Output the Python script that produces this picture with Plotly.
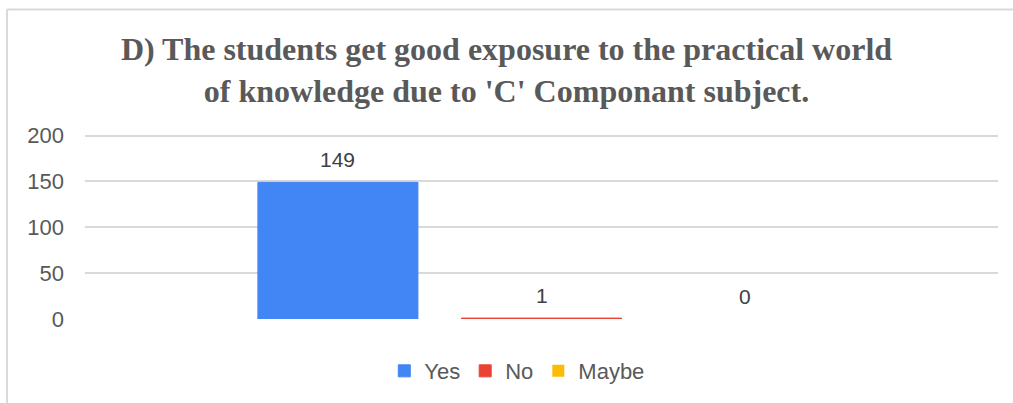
import plotly.graph_objects as go

# survey answers for question D
answers = ["Yes", "No", "Maybe"]
counts = [149, 1, 0]
colors = ["#4285F4", "#EA4335", "#FBBC04"]
category = ["D"]

title_text = ("<b>D) The students get good exposure to the practical world<br>"
              "of knowledge due to 'C' Componant subject.</b>")

bargap = 0.331
bargroupgap = 0.214

fig = go.Figure()

for name, val, col in zip(answers, counts, colors):
    fig.add_trace(go.Bar(
        x=category,
        y=[val],
        name=name,
        # outline in the bar colour so the tiny "1" bar stays visible
        marker=dict(color=col, line=dict(width=1 if val > 0 else 0, color=col)),
        hoverinfo="name+y",
    ))

# value labels a bit above each bar (like the excel-style chart)
slot = (1 - bargap) / len(answers)
for i, val in enumerate(counts):
    fig.add_annotation(
        x=(i - 1) * slot, y=val, xref="x", yref="y",
        text=str(val), showarrow=False,
        yanchor="middle", yshift=23,
        font=dict(family="Liberation Sans, Arial", size=21, color="#404040"),
    )

# thin frame lines (top and left) like the source picture
frame = dict(color="#D9D9D9", width=2)
fig.add_shape(type="line", xref="paper", yref="paper",
              x0=-0.0854, x1=1.02, y0=1.646, y1=1.646, line=frame)
fig.add_shape(type="line", xref="paper", yref="paper",
              x0=-0.0854, x1=-0.0854, y0=1.646, y1=-0.45, line=frame)

fig.update_layout(
    width=1013,
    height=403,
    margin=dict(l=85, r=15, t=131, b=83),
    paper_bgcolor="white",
    plot_bgcolor="white",
    barmode="group",
    bargap=bargap,
    bargroupgap=bargroupgap,
    title=dict(
        text=title_text,
        x=0.5, xref="container", xanchor="center",
        y=1 - 60 / 403, yref="container", yanchor="top",
        font=dict(family="Liberation Serif, Times New Roman", size=32, color="#595959"),
    ),
    xaxis=dict(showticklabels=False, showgrid=False, zeroline=False, showline=False,
               range=[-0.5, 0.5]),
    yaxis=dict(
        range=[0, 205],
        tickvals=[0, 50, 100, 150, 200],
        showgrid=True,
        gridcolor="#D9D9D9",
        gridwidth=1.5,
        zeroline=False,
        showline=False,
        ticklabelstandoff=20,
        tickfont=dict(family="Liberation Sans, Arial", size=22, color="#595959"),
    ),
    legend=dict(
        orientation="h",
        x=0.4735, xanchor="center",
        y=-0.27, yanchor="middle",
        font=dict(family="Liberation Sans, Arial", size=22, color="#595959"),
        itemwidth=30,
        traceorder="normal",
    ),
    showlegend=True,
)

# page body has a default 8px margin; drop it so the chart sits at the corner
fig.write_html("out.html", config={"displayModeBar": False},
               post_script="document.body.style.margin='0';")
